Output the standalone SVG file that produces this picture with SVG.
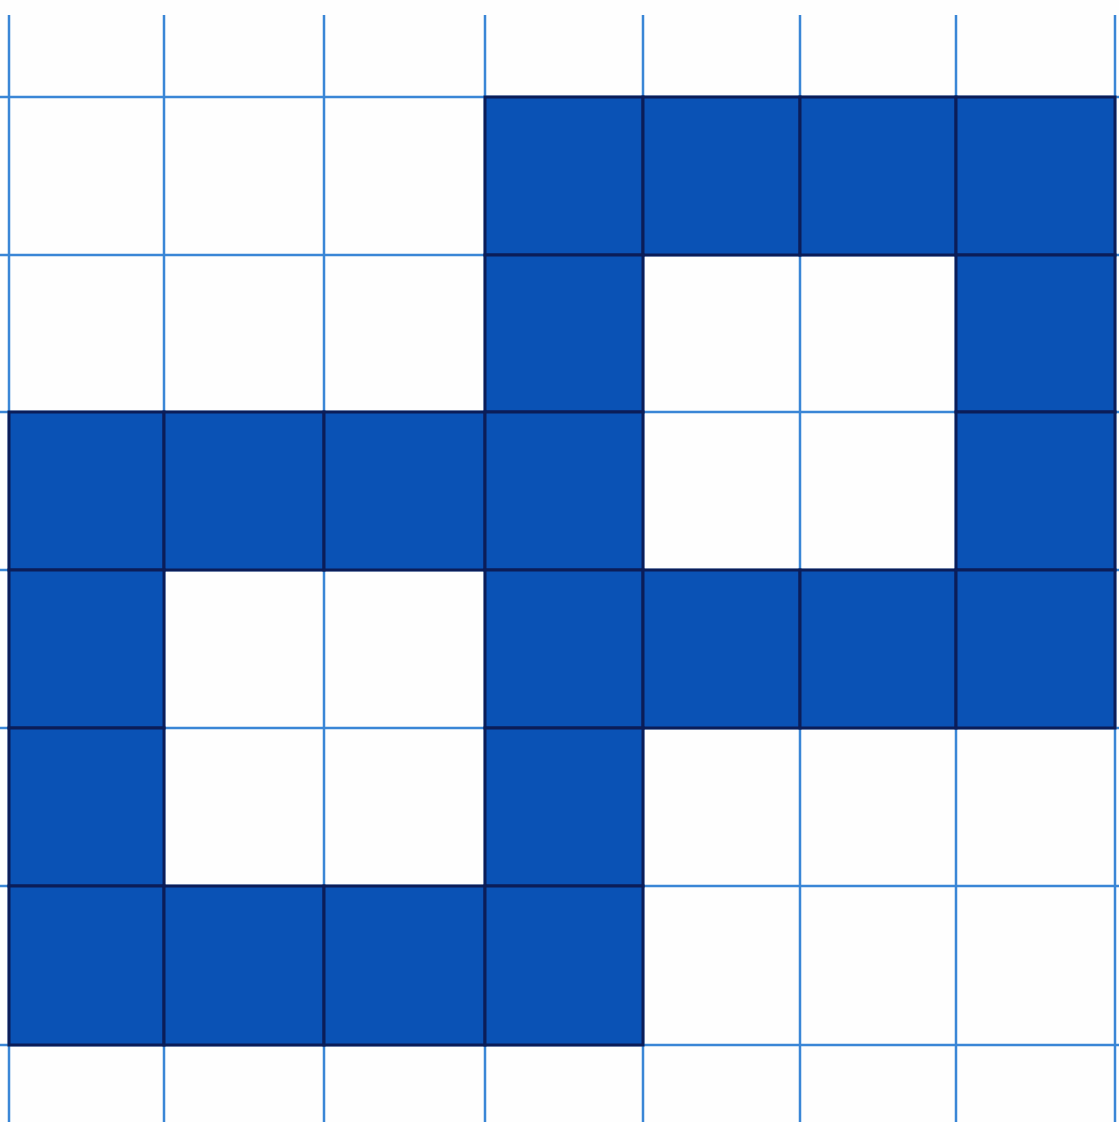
<svg xmlns="http://www.w3.org/2000/svg" width="1119" height="1122" viewBox="0 0 1119 1122">
<style>
.g{stroke:#3a86d6;stroke-width:2.5}
.c{fill:#0a52b5;stroke:#0b1d58;stroke-width:3}
</style>
<rect width="1119" height="1122" fill="#fefefe"/>
<g id="grid">
<line class="g" x1="9" y1="15" x2="9" y2="1122"/>
<line class="g" x1="164" y1="15" x2="164" y2="1122"/>
<line class="g" x1="324" y1="15" x2="324" y2="1122"/>
<line class="g" x1="485" y1="15" x2="485" y2="1122"/>
<line class="g" x1="643" y1="15" x2="643" y2="1122"/>
<line class="g" x1="800" y1="15" x2="800" y2="1122"/>
<line class="g" x1="956" y1="15" x2="956" y2="1122"/>
<line class="g" x1="1115" y1="15" x2="1115" y2="1122"/>
<line class="g" x1="0" y1="97" x2="1119" y2="97"/>
<line class="g" x1="0" y1="255" x2="1119" y2="255"/>
<line class="g" x1="0" y1="412" x2="1119" y2="412"/>
<line class="g" x1="0" y1="570" x2="1119" y2="570"/>
<line class="g" x1="0" y1="728" x2="1119" y2="728"/>
<line class="g" x1="0" y1="886" x2="1119" y2="886"/>
<line class="g" x1="0" y1="1045" x2="1119" y2="1045"/>
</g>
<g id="cells">
<rect class="c" x="485" y="97" width="158" height="158"/>
<rect class="c" x="643" y="97" width="157" height="158"/>
<rect class="c" x="800" y="97" width="156" height="158"/>
<rect class="c" x="956" y="97" width="159" height="158"/>
<rect class="c" x="485" y="255" width="158" height="157"/>
<rect class="c" x="956" y="255" width="159" height="157"/>
<rect class="c" x="9" y="412" width="155" height="158"/>
<rect class="c" x="164" y="412" width="160" height="158"/>
<rect class="c" x="324" y="412" width="161" height="158"/>
<rect class="c" x="485" y="412" width="158" height="158"/>
<rect class="c" x="956" y="412" width="159" height="158"/>
<rect class="c" x="9" y="570" width="155" height="158"/>
<rect class="c" x="485" y="570" width="158" height="158"/>
<rect class="c" x="643" y="570" width="157" height="158"/>
<rect class="c" x="800" y="570" width="156" height="158"/>
<rect class="c" x="956" y="570" width="159" height="158"/>
<rect class="c" x="9" y="728" width="155" height="158"/>
<rect class="c" x="485" y="728" width="158" height="158"/>
<rect class="c" x="9" y="886" width="155" height="159"/>
<rect class="c" x="164" y="886" width="160" height="159"/>
<rect class="c" x="324" y="886" width="161" height="159"/>
<rect class="c" x="485" y="886" width="158" height="159"/>
</g>
</svg>
